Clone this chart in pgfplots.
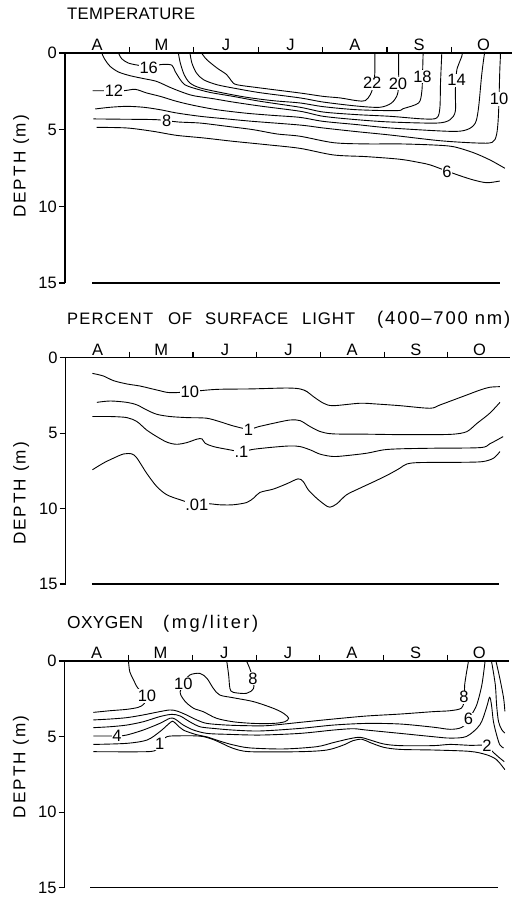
\documentclass[border=0pt]{standalone}
\usepackage{graphicx}
\usepackage{fontspec}
\setmainfont{Liberation Sans}
\usepackage{pgfplots}
\pgfplotsset{compat=1.18}
\newcommand\myls[1]{\addfontfeature{LetterSpace=#1}}
\newcommand\BIG[1]{\scalebox{1.65}{#1}}
\newcommand\W[2]{\resizebox{#1}{!}{#2}}

\pgfplotsset{
  panel/.style={
    scale only axis, anchor=south west,
    xmin=0, ymin=-15, ymax=0,
    axis x line=top, axis y line=left,
    axis line style={-, line width=1.3pt},
    tick align=outside,
    major tick length=6pt,
    tick style={line width=1.1pt, black},
    xtick={1,2,3,4,5,6}, xticklabels={,,,,,},
    extra x ticks={0.5,1.5,2.5,3.5,4.5,5.5,6.5},
    extra x tick labels={\BIG{A},\BIG{M},\BIG{J},\BIG{J},\BIG{A},\BIG{S},\BIG{O}},
    extra x tick style={major tick length=0pt},
    ytick={-15,-10,-5,0}, yticklabels={\BIG{15},\BIG{10},\BIG{5},\BIG{0}},
    ticklabel style={inner sep=2pt},
    clip=false,
  },
  c/.style={black, line width=0.9pt, smooth, tension=0.5, mark=none},
  bot/.style={black, line width=1.3pt, sharp plot, mark=none},
}
\tikzset{lab/.style={fill=white, inner sep=0.8pt},
  ttl/.style={anchor=base west, inner sep=0pt}}

\begin{document}
\begin{tikzpicture}
\useasboundingbox (0pt,0pt) rectangle (526pt,900pt);

% ---------- titles ----------
\node[ttl, font={\myls{2}}] at (67pt,880pt) {\W{128pt}{TEMPERATURE}};
\node[ttl, font={\myls{7}}] at (67pt,575pt) {\W{86pt}{PERCENT}};
\node[ttl, font={\myls{3}}] at (168pt,575pt) {\W{24pt}{OF}};
\node[ttl, font={\myls{4}}] at (205pt,575pt) {\W{83pt}{SURFACE}};
\node[ttl, font={\myls{5}}] at (302pt,575pt) {\W{53pt}{LIGHT}};
\node[ttl, font={\myls{10}}] at (377pt,575pt) {\W{133pt}{(400–700 nm)}};
\node[ttl, font={\myls{2}}] at (67pt,271pt) {\W{76pt}{OXYGEN}};
\node[ttl, font={\myls{14}}] at (163pt,271pt) {\W{95pt}{(mg/liter)}};

% ---------- TEMPERATURE ----------
\begin{axis}[panel, at={(65pt,617pt)}, width=447pt, height=230pt, xmax=6.94]
% 22
\addplot[c] coordinates {(2.12,0) (2.20,-0.43) (2.36,-0.98) (2.51,-1.41) (2.59,-1.85) (2.67,-2.07) (3.03,-2.28) (3.65,-2.61) (4.01,-2.83) (4.27,-2.93) (4.53,-3.11) (4.66,-3.11) (4.74,-2.72) (4.79,-2.09) (4.81,-1.30) (4.81,0)};
% 20
\addplot[c] coordinates {(1.94,0) (1.97,-0.65) (2.04,-1.30) (2.15,-1.74) (2.36,-2.07) (2.67,-2.33) (3.03,-2.59) (3.65,-2.93) (4.01,-3.20) (4.53,-3.46) (4.89,-3.54) (5.07,-3.26) (5.16,-2.72) (5.18,-1.98) (5.18,-0.98) (5.18,0)};
% 18
\addplot[c] coordinates {(1.76,0) (1.79,-0.65) (1.85,-1.41) (1.94,-1.96) (2.10,-2.28) (2.41,-2.57) (2.82,-2.89) (3.23,-3.11) (3.65,-3.26) (4.01,-3.50) (4.53,-3.70) (5.15,-3.76) (5.25,-3.63) (5.49,-3.26) (5.54,-2.50) (5.55,-1.54) (5.56,0)};
% 16
\addplot[c] coordinates {(0.83,0) (0.88,-0.37) (0.98,-0.65) (1.14,-0.80) (1.32,-0.85) (1.53,-0.74) (1.66,-0.80) (1.71,-1.20) (1.79,-1.74) (1.86,-2.07) (1.99,-2.28) (2.25,-2.57) (2.61,-2.83) (3.03,-3.15) (3.65,-3.54) (4.01,-3.85) (4.53,-4.02) (5.05,-4.13) (5.56,-4.30) (5.77,-4.24) (5.82,-3.59) (5.83,-1.98) (5.85,0)};
% 14
\addplot[c] coordinates {(0.57,0) (0.62,-0.43) (0.70,-0.87) (0.83,-1.24) (1.01,-1.48) (1.22,-1.67) (1.42,-1.85) (1.63,-2.24) (1.81,-2.54) (1.99,-2.78) (2.30,-2.98) (2.61,-3.20) (3.03,-3.46) (3.65,-3.80) (4.01,-4.13) (4.53,-4.35) (5.05,-4.50) (5.77,-4.57) (5.98,-4.35) (6.06,-3.80) (6.06,-2.50) (6.08,-1.20) (6.11,-0.76) (6.16,-0.22) (6.17,0)};
% 12
\addplot[c] coordinates {(0.43,-2.46) (0.62,-2.46) (0.91,-2.46) (1.09,-2.37) (1.27,-2.61) (1.48,-2.83) (1.73,-3.15) (1.99,-3.41) (2.36,-3.70) (2.82,-3.93) (3.23,-4.07) (3.65,-4.20) (4.01,-4.46) (4.53,-4.67) (5.05,-4.89) (5.98,-5.11) (6.24,-5.00) (6.37,-4.57) (6.42,-3.59) (6.47,-1.41) (6.51,-0.11) (6.52,0)};
% 10
\addplot[c] coordinates {(0.47,-3.65) (0.70,-3.54) (0.96,-3.48) (1.22,-3.54) (1.48,-3.70) (1.73,-3.91) (2.10,-4.13) (2.51,-4.30) (2.92,-4.46) (3.65,-4.70) (4.01,-4.89) (4.53,-5.13) (5.05,-5.35) (5.82,-5.72) (6.39,-5.87) (6.63,-5.83) (6.70,-5.33) (6.73,-4.02) (6.75,-1.20) (6.76,-0.22) (6.76,0)};
% 8
\addplot[c] coordinates {(0.44,-4.30) (0.90,-4.32) (1.42,-4.35) (1.76,-4.50) (2.10,-4.57) (2.51,-4.78) (2.92,-5.00) (3.29,-5.28) (3.65,-5.43) (4.17,-5.85) (4.68,-5.93) (5.20,-5.93) (5.72,-6.00) (6.03,-6.11) (6.34,-6.50) (6.60,-6.98) (6.83,-7.52)};
% 6
\addplot[c] coordinates {(0.49,-4.85) (0.96,-4.89) (1.37,-5.11) (1.73,-5.37) (2.15,-5.54) (2.61,-5.76) (3.13,-5.98) (3.65,-6.22) (4.17,-6.65) (4.68,-6.76) (5.20,-6.93) (5.51,-7.15) (5.67,-7.30) (5.93,-7.70) (6.13,-8.00) (6.34,-8.28) (6.55,-8.46) (6.75,-8.35)};
% lake bottom
\addplot[bot] coordinates {(0.42,-15) (6.75,-15)};
\node[lab] at (axis cs:1.30,-0.95) {\BIG{16}};
\node[lab] at (axis cs:0.76,-2.48) {\BIG{12}};
\node[lab] at (axis cs:1.58,-4.45) {\BIG{8}};
\node[lab] at (axis cs:4.77,-1.97) {\BIG{22}};
\node[lab] at (axis cs:5.17,-2.00) {\BIG{20}};
\node[lab] at (axis cs:5.55,-1.55) {\BIG{18}};
\node[lab] at (axis cs:6.08,-1.78) {\BIG{14}};
\node[lab] at (axis cs:6.74,-3.00) {\BIG{10}};
\node[lab] at (axis cs:5.93,-7.75) {\BIG{6}};
\node[rotate=90, font={\myls{12}}] at (axis cs:-0.68,-7.4) {\W{103pt}{DEPTH (m)}};
\end{axis}

% ---------- LIGHT ----------
\begin{axis}[panel, at={(65.7pt,316pt)}, width=443.8pt, height=226.3pt, xmax=6.97]
% 10 %
\addplot[c] coordinates {(0.42,-1.04) (0.59,-1.21) (0.75,-1.52) (0.96,-1.74) (1.17,-1.88) (1.43,-2.14) (1.64,-2.32) (1.95,-2.25) (2.37,-2.10) (2.90,-2.07) (3.47,-2.01) (3.68,-2.07) (3.79,-2.25) (3.89,-2.58) (4.05,-3.02) (4.20,-3.18) (4.62,-3.02) (4.88,-3.07) (5.25,-3.18) (5.72,-3.35) (5.88,-3.13) (6.30,-2.47) (6.51,-2.14) (6.66,-1.96) (6.82,-1.92)};
% 1 %
\addplot[c] coordinates {(0.49,-2.96) (0.70,-2.87) (0.96,-2.96) (1.12,-3.13) (1.27,-3.46) (1.43,-3.75) (1.64,-3.90) (1.90,-3.97) (2.21,-4.01) (2.42,-4.24) (2.63,-4.52) (2.87,-4.74) (3.03,-4.57) (3.26,-4.35) (3.52,-4.13) (3.68,-4.17) (3.84,-4.57) (4.00,-4.90) (4.20,-5.05) (4.73,-5.07) (5.25,-5.10) (5.77,-5.10) (6.09,-5.07) (6.30,-4.90) (6.46,-4.35) (6.66,-3.68) (6.82,-2.96)};
% 0.1 %
\addplot[c] coordinates {(0.42,-3.90) (0.70,-3.90) (0.96,-3.97) (1.12,-4.24) (1.27,-4.79) (1.43,-5.23) (1.59,-5.60) (1.74,-5.74) (1.90,-5.63) (2.06,-5.40) (2.14,-5.38) (2.19,-5.67) (2.32,-5.89) (2.53,-6.07) (2.76,-6.22) (2.95,-6.07) (3.26,-5.93) (3.52,-5.85) (3.68,-5.89) (3.84,-6.11) (4.00,-6.40) (4.20,-6.55) (4.41,-6.49) (4.73,-6.33) (4.99,-6.11) (5.25,-6.04) (5.77,-6.00) (6.51,-5.96) (6.66,-5.71) (6.87,-5.23)};
% 0.01 %
\addplot[c] coordinates {(0.42,-7.43) (0.59,-6.99) (0.75,-6.66) (0.91,-6.38) (1.04,-6.38) (1.12,-6.66) (1.27,-7.65) (1.43,-8.54) (1.59,-9.09) (1.80,-9.42) (2.06,-9.75) (2.24,-9.68) (2.42,-9.75) (2.63,-9.75) (2.84,-9.60) (2.95,-9.31) (3.05,-8.93) (3.26,-8.71) (3.47,-8.36) (3.65,-8.03) (3.73,-8.21) (3.81,-8.76) (3.94,-9.31) (4.07,-9.75) (4.15,-9.91) (4.26,-9.68) (4.41,-9.09) (4.62,-8.65) (4.88,-8.14) (5.09,-7.70) (5.25,-7.32) (5.36,-7.04) (5.57,-6.95) (6.30,-6.93) (6.56,-6.88) (6.72,-6.66) (6.82,-6.22)};
\addplot[bot] coordinates {(0.41,-15) (6.80,-15)};
\node[lab] at (axis cs:1.95,-2.27) {\BIG{10}};
\node[lab] at (axis cs:2.87,-4.75) {\BIG{1}};
\node[lab] at (axis cs:2.76,-6.25) {\BIG{.1}};
\node[lab] at (axis cs:2.06,-9.75) {\BIG{.01}};
\node[rotate=90, font={\myls{12}}] at (axis cs:-0.70,-9.0) {\W{103pt}{DEPTH (m)}};
\end{axis}

% ---------- OXYGEN ----------
\begin{axis}[panel, at={(64.7pt,12.3pt)}, width=444pt, height=226.7pt, xmax=6.96]
% 10 (left)
\addplot[c] coordinates {(0.45,-3.40) (0.71,-3.29) (0.97,-3.20) (1.15,-3.07) (1.24,-2.85) (1.29,-2.32) (1.15,-1.81) (1.08,-1.26) (1.02,-0.71) (1.00,0)};
% 10 (loop)
\addplot[c] coordinates {(1.81,-2.03) (1.82,-2.25) (1.89,-2.69) (2.02,-3.13) (2.17,-3.35) (2.38,-3.79) (2.64,-4.02) (2.96,-4.13) (3.27,-4.13) (3.45,-4.02) (3.51,-3.79) (3.43,-3.46) (3.27,-3.13) (2.96,-2.69) (2.64,-2.43) (2.43,-2.25) (2.33,-1.81) (2.23,-1.15) (2.12,-0.82) (1.96,-0.93) (1.86,-1.48) (1.81,-2.03)};
% 8 (June tongue)
\addplot[c] coordinates {(2.54,0) (2.57,-0.93) (2.59,-1.81) (2.64,-2.07) (2.85,-2.14) (2.96,-1.81) (2.95,-1.15) (2.90,-0.49) (2.85,0)};
% 8
\addplot[c] coordinates {(0.45,-3.90) (0.71,-3.84) (0.97,-3.75) (1.23,-3.57) (1.49,-3.35) (1.65,-3.24) (1.76,-3.31) (1.91,-3.57) (2.07,-3.90) (2.23,-4.13) (2.54,-4.24) (2.85,-4.28) (3.17,-4.28) (3.69,-4.06) (4.21,-3.84) (4.73,-3.64) (5.26,-3.51) (5.78,-3.35) (6.04,-3.29) (6.22,-3.11) (6.27,-2.45) (6.27,-1.57) (6.33,0)};
% 6
\addplot[c] coordinates {(0.45,-4.41) (0.71,-4.35) (0.97,-4.24) (1.23,-4.02) (1.49,-3.68) (1.68,-3.53) (1.81,-3.64) (1.96,-4.02) (2.12,-4.35) (2.33,-4.46) (2.64,-4.57) (3.06,-4.63) (3.69,-4.46) (4.21,-4.24) (4.73,-4.13) (5.26,-4.17) (5.78,-4.38) (6.04,-4.52) (6.22,-4.40) (6.35,-3.88) (6.38,-3.55) (6.46,-2.89) (6.54,-1.57) (6.59,0)};
% 4
\addplot[c] coordinates {(0.45,-4.96) (0.82,-4.96) (0.97,-4.90) (1.23,-4.57) (1.49,-4.13) (1.65,-3.79) (1.73,-3.84) (1.86,-4.24) (2.02,-4.57) (2.23,-4.79) (2.54,-4.85) (3.06,-4.90) (3.69,-4.79) (4.21,-4.57) (4.52,-4.48) (4.73,-4.57) (5.26,-4.79) (5.78,-5.01) (6.04,-5.10) (6.30,-4.99) (6.51,-4.21) (6.61,-3.11) (6.66,-2.40) (6.69,-2.89) (6.72,-3.99) (6.77,-4.88) (6.82,-5.54) (6.88,-5.76)};
% 2
\addplot[c] coordinates {(0.45,-5.52) (0.97,-5.45) (1.29,-5.23) (1.49,-4.68) (1.62,-4.20) (1.69,-3.98) (1.75,-4.18) (1.86,-4.57) (2.07,-4.88) (2.23,-5.02) (2.43,-5.30) (2.64,-5.55) (2.90,-5.75) (3.43,-5.82) (3.95,-5.67) (4.21,-5.40) (4.47,-5.14) (4.63,-5.05) (4.79,-5.23) (5.00,-5.49) (5.26,-5.60) (5.78,-5.60) (6.04,-5.52) (6.35,-5.58) (6.60,-5.60) (6.72,-6.05) (6.80,-6.35) (6.89,-6.66)};
% 1
\addplot[c] coordinates {(0.45,-6.00) (1.29,-6.00) (1.44,-5.85) (1.49,-5.49) (1.60,-5.01) (1.81,-4.95) (2.02,-4.95) (2.17,-5.00) (2.33,-5.20) (2.49,-5.50) (2.64,-5.78) (2.90,-6.00) (3.69,-6.00) (4.11,-5.89) (4.37,-5.56) (4.52,-5.27) (4.66,-5.18) (4.79,-5.40) (5.00,-5.71) (5.26,-5.85) (5.78,-5.89) (6.35,-5.98) (6.61,-6.20) (6.77,-6.53) (6.90,-7.19)};
% October lines
\addplot[c] coordinates {(6.69,0) (6.75,-1.57) (6.77,-2.89) (6.80,-4.00) (6.85,-4.54) (6.90,-4.77)};
\addplot[c] coordinates {(6.76,0) (6.82,-1.13) (6.88,-2.45) (6.90,-3.33)};
\addplot[bot] coordinates {(0.40,-15) (6.80,-15)};
\node[lab] at (axis cs:1.29,-2.32) {\BIG{10}};
\node[lab] at (axis cs:1.86,-1.50) {\BIG{10}};
\node[lab] at (axis cs:2.95,-1.15) {\BIG{8}};
\node[lab] at (axis cs:6.26,-2.40) {\BIG{8}};
\node[lab] at (axis cs:6.33,-3.85) {\BIG{6}};
\node[lab] at (axis cs:0.82,-4.98) {\BIG{4}};
\node[lab] at (axis cs:6.62,-5.58) {\BIG{2}};
\node[lab] at (axis cs:1.49,-5.49) {\BIG{1}};
\node[rotate=90, font={\myls{12}}] at (axis cs:-0.685,-7.0) {\W{103pt}{DEPTH (m)}};
\end{axis}
\end{tikzpicture}
\end{document}
